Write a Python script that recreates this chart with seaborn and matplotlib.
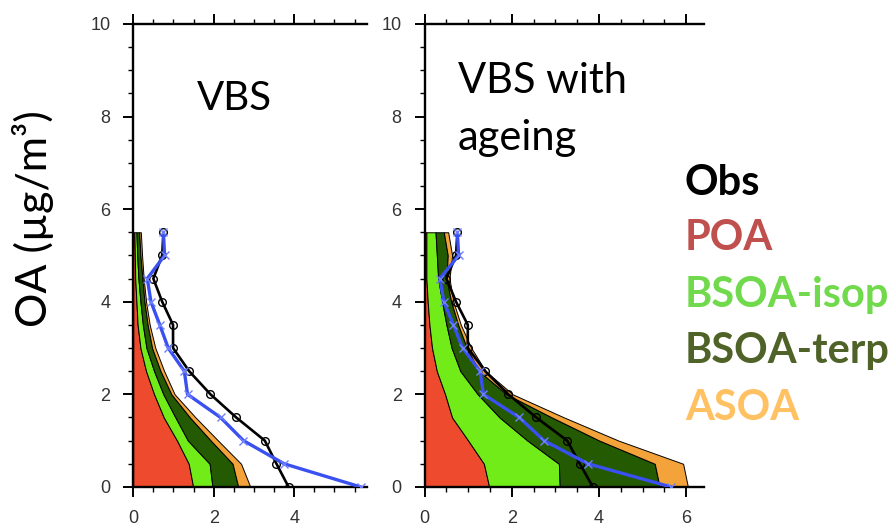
import numpy as np
import pandas as pd
import matplotlib
matplotlib.use("Agg")
import matplotlib.pyplot as plt
from matplotlib.ticker import MultipleLocator
import seaborn as sns

# ---------------- data ----------------
altitude = [0.0, 0.5, 1.0, 1.5, 2.0, 2.5, 3.0, 3.5, 4.0, 4.5, 5.0, 5.5]

# observations (same in both panels)
obs_black = [3.86, 3.56, 3.27, 2.56, 1.92, 1.39, 0.99, 0.99, 0.72, 0.50, 0.72, 0.75]
obs_blue = [5.65, 3.75, 2.74, 2.17, 1.35, 1.27, 0.87, 0.66, 0.44, 0.35, 0.78, 0.75]

# VBS components (stacked)
vbs_poa = [1.49, 1.38, 1.09, 0.76, 0.52, 0.32, 0.18, 0.11, 0.08, 0.05, 0.04, 0.03]
vbs_isop = [0.48, 0.52, 0.27, 0.29, 0.23, 0.20, 0.15, 0.13, 0.10, 0.08, 0.06, 0.05]
vbs_terp = [0.64, 0.57, 0.57, 0.36, 0.20, 0.16, 0.14, 0.12, 0.10, 0.10, 0.08, 0.07]
vbs_asoa = [0.30, 0.21, 0.18, 0.14, 0.08, 0.09, 0.08, 0.05, 0.04, 0.03, 0.04, 0.04]

# VBS with ageing components (stacked)
age_poa = [1.48, 1.36, 1.00, 0.63, 0.47, 0.28, 0.17, 0.11, 0.07, 0.04, 0.04, 0.04]
age_isop = [1.62, 1.72, 1.36, 1.09, 0.75, 0.54, 0.45, 0.39, 0.33, 0.27, 0.24, 0.21]
age_terp = [2.29, 2.20, 1.65, 1.20, 0.66, 0.43, 0.35, 0.27, 0.21, 0.19, 0.25, 0.19]
age_asoa = [0.65, 0.65, 0.44, 0.28, 0.14, 0.15, 0.10, 0.06, 0.05, 0.07, 0.10, 0.10]

components = ["POA", "BSOA-isop", "BSOA-terp", "ASOA"]
fill_colors = ["#EE4B2E", "#72EC18", "#235A02", "#F4A33A"]
legend_labels = ["Obs", "POA", "BSOA-isop", "BSOA-terp", "ASOA"]
legend_colors = ["#000000", "#C0504D", "#71DA4C", "#4F6228", "#FFC162"]

panel_titles = [["VBS"], ["VBS with", "ageing"]]
x_ticks = [[0, 2, 4], [0, 2, 4, 6]]
y_ticks = [0, 2, 4, 6, 8, 10]

# ---------------- style ----------------
sns.set_theme(style="ticks")
plt.rcParams["font.family"] = ["Lato", "DejaVu Sans"]

fig = plt.figure(figsize=(8.94, 5.31), dpi=100)
ax1 = fig.add_axes([0.149, 0.083, 0.262, 0.872])
ax2 = fig.add_axes([0.475, 0.083, 0.313, 0.872])

panels = [
    (ax1, [vbs_poa, vbs_isop, vbs_terp, vbs_asoa], 5.82),
    (ax2, [age_poa, age_isop, age_terp, age_asoa], 6.42),
]

for i, (ax, comps, xmax) in enumerate(panels):
    cum = np.zeros(len(altitude))
    for vals, col in zip(comps, fill_colors):
        upper = cum + np.array(vals)
        ax.fill_betweenx(altitude, cum, upper, facecolor=col,
                         edgecolor="black", linewidth=0.7, zorder=1)
        cum = upper
    sns.lineplot(x=obs_black, y=altitude, sort=False, estimator=None, ax=ax,
                 color="black", linewidth=1.9, marker="o", markersize=5.5,
                 markerfacecolor="none", markeredgecolor="black",
                 markeredgewidth=1.0, zorder=3)
    sns.lineplot(x=obs_blue, y=altitude, sort=False, estimator=None, ax=ax,
                 color="#3A50F0", linewidth=2.4, marker="x", markersize=6,
                 markeredgecolor="#6F80FF", markeredgewidth=1.0, zorder=4)
    ax.set_xlim(0, xmax)
    ax.set_ylim(0, 10)
    ax.set_xticks(x_ticks[i])
    ax.set_yticks(y_ticks)
    ax.xaxis.set_minor_locator(MultipleLocator(0.5))
    ax.yaxis.set_minor_locator(MultipleLocator(0.5))
    ax.spines["right"].set_visible(False)
    for s in ["left", "bottom", "top"]:
        ax.spines[s].set_linewidth(1.7)
        ax.spines[s].set_color("black")
    ax.tick_params(which="major", direction="out", length=7.5, width=1.4,
                   top=True, right=False, labeltop=False, labelsize=13,
                   labelcolor="#333333", pad=9, color="black")
    ax.tick_params(which="minor", direction="out", length=3.8, width=1.0,
                   top=True, right=False, color="black")
    ax.set_xlabel("")
    ax.set_ylabel("")
    for lab in ax.get_xticklabels() + ax.get_yticklabels():
        lab.set_fontfamily(["Liberation Sans", "DejaVu Sans"])

# panel annotations
fig.text(197 / 894, 1 - 110 / 531, panel_titles[0][0], fontsize=29,
         color="black", ha="left", va="baseline")
fig.text(458 / 894, 1 - 93 / 531, panel_titles[1][0], fontsize=30,
         color="black", ha="left", va="baseline")
fig.text(458 / 894, 1 - 150 / 531, panel_titles[1][1], fontsize=30,
         color="black", ha="left", va="baseline")

# legend as coloured bold text
baselines = [195, 250, 307, 363, 420]
for lab, col, b in zip(legend_labels, legend_colors, baselines):
    fig.text(685 / 894, 1 - b / 531, lab, fontsize=30, fontweight="bold",
             color=col, ha="left", va="baseline")

# y label
fig.text(33 / 894, 1 - 219 / 531, "OA (µg/m³)", fontsize=31, rotation=90,
         ha="center", va="center", color="black")

fig.savefig("out.png", dpi=100)
